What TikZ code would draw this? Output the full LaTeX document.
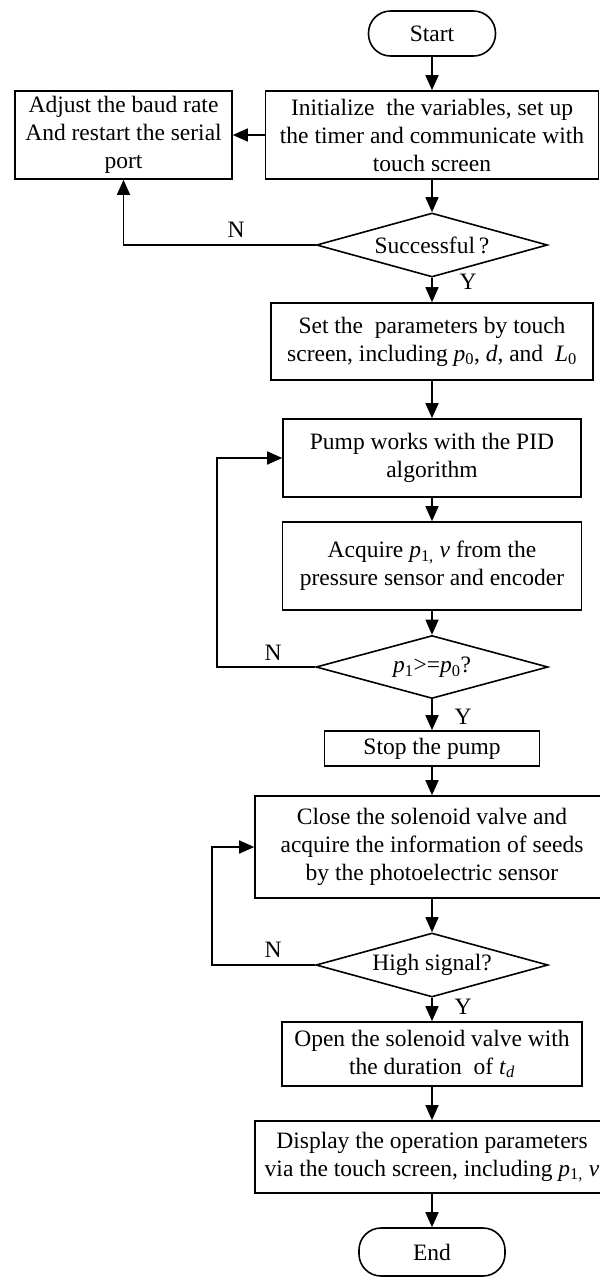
\documentclass[tikz,border=0pt]{standalone}
\usepackage{fontspec}
\setmainfont{Liberation Serif}
\usetikzlibrary{shapes.geometric,arrows.meta}
\newcommand\sub[1]{\textsubscript{#1}}
\begin{document}
\begin{tikzpicture}[x=1pt,y=-1pt,
  line width=1.6pt,
  >={Triangle[length=15pt,width=13pt]},
  every node/.style={font=\fontsize{23.5}{28}\selectfont},
  box/.style={draw, rectangle, align=center, inner sep=0pt},
  term/.style={draw, rectangle, rounded corners=22pt, inner sep=0pt},
  dec/.style={draw, diamond, inner sep=0pt, aspect=3.6},
  lbl/.style={inner sep=0pt}
]
\useasboundingbox (0,0) rectangle (600,1278);
\node[term, minimum width=127pt, minimum height=45pt] (start) at (432,33.5) {Start};
\node[box, minimum width=333pt, minimum height=88pt] (init) at (432,135)
  {Initialize~ the variables, set up\\the timer and communicate with\\touch screen};
\node[box, minimum width=217pt, minimum height=88pt] (adjust) at (123.5,135)
  {Adjust the baud rate\\And restart the serial\\port};
\node[dec, minimum width=231pt, minimum height=64pt] (succ) at (432,245) {Successful\,?};
\node[box, minimum width=322pt, minimum height=77pt] (set) at (432,341.5)
  {Set the~ parameters by touch\\screen, including \textit{p}\sub{0}, \textit{d}, and~ \textit{L}\sub{0}};
\node[box, minimum width=298pt, minimum height=78pt] (pump) at (432,458)
  {Pump works with the PID\\algorithm};
\node[box, minimum width=299pt, minimum height=88pt] (acq) at (432,566)
  {Acquire \textit{p}\sub{1,} \textit{v} from the\\pressure sensor and encoder};
\node[dec, minimum width=232pt, minimum height=63pt] (cmp) at (432,667)
  {\textit{p}\sub{1}>=\textit{p}\sub{0}?};
\node[box, minimum width=215pt, minimum height=35pt] (stop) at (432,748.5) {Stop the pump};
\node[box, minimum width=354pt, minimum height=102pt] (close) at (432,847)
  {Close the solenoid valve and\\acquire the information of seeds\\by the photoelectric sensor};
\node[dec, minimum width=232pt, minimum height=64pt] (high) at (432,965) {High signal?};
\node[box, minimum width=300pt, minimum height=64pt] (open) at (432,1054)
  {Open the solenoid valve with\\the duration~ of \textit{t}\sub{\textit{d}}};
\node[box, minimum width=354pt, minimum height=72pt] (disp) at (432,1157)
  {Display the operation parameters\\via the touch screen, including \textit{p}\sub{1,} \textit{v}};
\node[term, minimum width=146pt, minimum height=48pt] (end) at (432,1252) {End};

\coordinate (l1) at (217,667);
\coordinate (l2) at (212,965);

\draw[->] (start) -- (init);
\draw[->] (init) -- (succ);
\draw[->] (init.west) -- (adjust.east);
\draw[->] (succ.west) -| (adjust.south);
\draw[->] (succ) -- (set);
\draw[->] (set) -- (pump);
\draw[->] (pump) -- (acq);
\draw[->] (acq) -- (cmp);
\draw[->] (cmp.west) -- (l1) |- (pump.west);
\draw[->] (cmp) -- (stop);
\draw[->] (stop) -- (close);
\draw[->] (close) -- (high);
\draw[->] (high.west) -- (l2) |- (close.west);
\draw[->] (high) -- (open);
\draw[->] (open) -- (disp);
\draw[->] (disp) -- (end);

\node[lbl] (n1) at (236,230) {N};
\node[lbl] (n2) at (273,653) {N};
\node[lbl] (n3) at (273,950) {N};
\node[lbl] (y1) at (468,282) {Y};
\node[lbl] (y2) at (463,717) {Y};
\node[lbl] (y3) at (463,1007) {Y};
\end{tikzpicture}
\end{document}
